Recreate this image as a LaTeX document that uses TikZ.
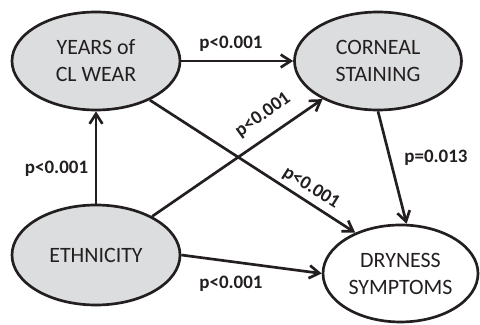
\documentclass[tikz,border=0pt]{standalone}
\usepackage{fontspec}
\setmainfont{Carlito}
\usetikzlibrary{shapes.geometric,arrows.meta}

\definecolor{ink}{HTML}{231F20}
\definecolor{ovalgray}{HTML}{DCDDDE}

\tikzset{factor/.style={ellipse,draw=ink,line width=1.9pt,fill=ovalgray,inner sep=0cm,align=center,text=ink,font=\fontsize{15.6}{19.2}\selectfont},
outcome/.style={factor,fill=white},
plabel/.style={font=\fontsize{13.5}{16}\selectfont\bfseries,text=ink,inner sep=0cm},
link/.style={draw=ink,line width=1.9pt,-{Straight Barb[length=0.25cm,width=0.32cm]}}}

\begin{document}
\begin{tikzpicture}
\useasboundingbox (0,0) rectangle (12.000,8.100);

%% Coordinates of the ovals.
\coordinate (c1) at (2.400,6.575);
\coordinate (c2) at (9.450,6.575);
\coordinate (c3) at (2.400,1.725);
\coordinate (c4) at (10.013,1.263);

%% ovals
\node [factor,minimum width=4.200cm,minimum height=2.450cm] (years) at (c1) {YEARS of\\CL WEAR};
\node [factor,minimum width=4.175cm,minimum height=2.450cm] (stain) at (c2) {CORNEAL\\STAINING};
\node [factor,minimum width=4.200cm,minimum height=2.500cm] (ethn) at (c3) {ETHNICITY};
\node [outcome,minimum width=3.875cm,minimum height=2.425cm] (dry) at (c4) {DRYNESS\\SYMPTOMS};

%% arrows
\draw [link] (years) -- (stain);
\draw [link] (ethn.north) -- (years.south);
\draw [link] (ethn) -- (stain);
\draw [link] (years.-36) -- (dry.138);
\draw [link] (stain.south) -- (dry.83);
\draw [link] (ethn.east) -- (dry.west);

%% p values
\node [plabel] (p1) at (5.775,7.012) {p<0.001};
\node [plabel] (p2) at (1.413,3.875) {p<0.001};
\node [plabel,rotate=35.7] (p3) at (6.575,5.225) {p<0.001};
\node [plabel,rotate=-32.4] (p4) at (7.775,3.400) {p<0.001};
\node [plabel] (p5) at (10.900,4.150) {p=0.013};
\node [plabel] (p6) at (5.775,1.000) {p<0.001};

\end{tikzpicture}
\end{document}
